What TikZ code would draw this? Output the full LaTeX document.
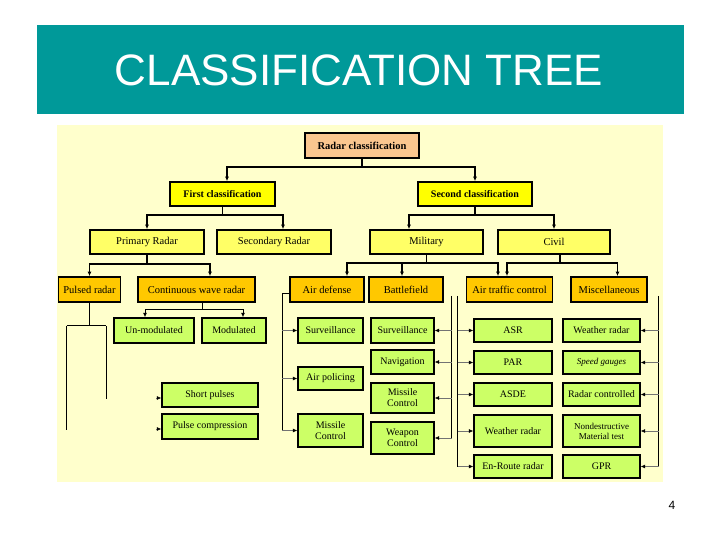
\documentclass[tikz,border=0pt]{standalone}
\usepackage{fontspec}
\setmainfont{Liberation Serif}
\newfontfamily\slidefont{Liberation Sans}
\usetikzlibrary{arrows.meta,positioning,calc}

\definecolor{slideteal}{HTML}{009999}
\definecolor{panelyellow}{HTML}{FFFFCC}
\definecolor{rootpeach}{HTML}{FAC68F}
\definecolor{classyellow}{HTML}{FFFF00}
\definecolor{branchyellow}{HTML}{FFFF66}
\definecolor{kindorange}{HTML}{FFC800}
\definecolor{leafgreen}{HTML}{CCFF66}

\begin{document}
\begin{tikzpicture}[x=1pt,y=-1pt,
  box/.style={draw,line width=1.6pt,inner sep=1pt,align=center,
              font=\fontsize{10.5}{11.5}\selectfont},
  dims/.style 2 args={minimum width=#1,minimum height=#2},
  root/.style={box,fill=rootpeach,font=\bfseries\fontsize{10.5}{12}\selectfont},
  cls/.style={box,fill=classyellow,font=\bfseries\fontsize{10}{12}\selectfont},
  branch/.style={box,fill=branchyellow},
  kind/.style={box,fill=kindorange,line width=1.8pt},
  leaf/.style={box,fill=leafgreen,line width=1.3pt,font=\fontsize{10}{11}\selectfont},
  bus/.style={line width=1.6pt},
  ev/.style={-{Latex[length=4.5pt,width=4pt]}},
  sub/.style={line width=0.9pt},
  twig/.style={-{Latex[length=4.5pt,width=4pt,black]},line width=0.6pt,black!55}]

  % slide
  \useasboundingbox (0,0) rectangle (720,540);
  \fill[white] (0,0) rectangle (720,540);
  \fill[slideteal] (37,25) rectangle (684,114);
  \node[text=white,font=\slidefont\fontsize{44}{44}\selectfont] (title)
    at (359,70) {CLASSIFICATION TREE};
  \fill[panelyellow] (57,125) rectangle (663,482);
  \node[font=\slidefont\fontsize{12}{12}\selectfont] (pageno) at (672,505) {4};

  % upper levels
  \node[root,dims={114}{25}] (rc) at (362,145.5) {Radar classification};
  \node[cls,dims={105}{24}] (fc) at (222.5,194) {First classification};
  \node[cls,dims={114}{24}] (sc) at (475,194) {Second classification};

  \node[branch,dims={114}{24}] (pr) at (147,242) {Primary Radar};
  \node[branch,dims={114}{24}] (sr) at (274,242) {Secondary Radar};
  \node[branch,dims={113}{24}] (mil) at (426.5,242) {Military};
  \node[branch,dims={112}{24}] (civ) at (554,242) {Civil};

  \node[kind,dims={62}{25}] (pul) at (89.5,289.5) {Pulsed radar};
  \node[kind,dims={117}{25}] (cw) at (196.5,289.5) {Continuous wave radar};
  \node[kind,dims={74}{25}] (ad) at (327,289.5) {Air defense};
  \node[kind,dims={74}{25}] (bf) at (406,289.5) {Battlefield};
  \node[kind,dims={86}{25}] (atc) at (509.5,289.5) {Air traffic control};
  \node[kind,dims={76}{25}] (misc) at (609,289.5) {Miscellaneous};

  % leaves
  \node[leaf,dims={80}{25}] (um) at (154,330.5) {Un-modulated};
  \node[leaf,dims={64}{25}] (mod) at (234,330.5) {Modulated};
  \node[leaf,dims={96}{24}] (sp) at (210,395) {Short pulses};
  \node[leaf,dims={96}{25}] (pc) at (210,426.5) {Pulse compression};

  \node[leaf,dims={65}{25}] (ads) at (330.5,330.5) {Surveillance};
  \node[leaf,dims={65}{23}] (ap) at (330.5,378.5) {Air policing};
  \node[leaf,dims={65}{33}] (amc) at (330.5,430.5) {Missile\\Control};

  \node[leaf,dims={63}{25}] (bs) at (402.5,330.5) {Surveillance};
  \node[leaf,dims={63}{24}] (bn) at (402.5,362) {Navigation};
  \node[leaf,dims={63}{30}] (bmc) at (402.5,398) {Missile\\Control};
  \node[leaf,dims={63}{32}] (bwc) at (402.5,438) {Weapon\\Control};

  \node[leaf,dims={78}{23}] (asr) at (513,330.5) {ASR};
  \node[leaf,dims={78}{23}] (par) at (513,362.5) {PAR};
  \node[leaf,dims={78}{23}] (asde) at (513,394.5) {ASDE};
  \node[leaf,dims={78}{32}] (awr) at (513,431) {Weather radar};
  \node[leaf,dims={78}{23}] (enr) at (513,466.5) {En-Route radar};

  \node[leaf,dims={77}{23}] (mwr) at (601.5,330.5) {Weather radar};
  \node[leaf,dims={77}{23},font=\itshape\fontsize{9}{10}\selectfont] (spg)
    at (601.5,362.5) {Speed gauges};
  \node[leaf,dims={77}{23}] (rcd) at (601.5,394.5) {Radar controlled};
  \node[leaf,dims={77}{32},font=\fontsize{9}{10}\selectfont] (ndt)
    at (601.5,431) {Nondestructive\\Material test};
  \node[leaf,dims={77}{23}] (gpr) at (601.5,466.5) {GPR};

  % top buses
  \draw[bus] (rc.south) -- ++(0,8) coordinate (rcbus);
  \draw[bus,ev] (rcbus) -| ($(fc.north)+(4.5,0)$);
  \draw[bus,ev] (rcbus) -| (sc.north);

  \draw[bus] (fc.south) -- ++(0,8) coordinate (fcbus);
  \draw[bus,ev] (fcbus) -| (pr.north);
  \draw[bus,ev] (fcbus) -| ($(sr.north)+(9,0)$);

  \draw[bus] (sc.south) -- ++(0,8) coordinate (scbus);
  \draw[bus,ev] (scbus) -| ($(mil.north)+(-17.5,0)$);
  \draw[bus,ev] (scbus) -| (civ.north);

  \draw[bus] (pr.south) -- ++(0,9) coordinate (prbus);
  \draw[bus,ev] (prbus) -| (pul.north);
  \draw[bus,ev] (prbus) -| ($(cw.north)+(13.5,0)$);

  \draw[bus] (mil.south) -- ++(0,8) coordinate (milbus);
  \draw[bus,ev] (milbus) -| ($(ad.north)+(20,0)$);
  \draw[bus,ev] (milbus) -| ($(bf.north)+(-4,0)$);
  \draw[bus,ev] (milbus) -| ($(atc.north)+(-11.5,0)$);

  \draw[bus] ($(civ.south)+(6,0)$) -- ++(0,8) coordinate (civbus);
  \draw[bus,ev] (civbus) -| ($(atc.north)+(-2.5,0)$);
  \draw[bus,ev] (civbus) -| ($(misc.north)+(8.5,0)$);

  % continuous wave
  \draw[sub] ($(cw.south)+(5.5,0)$) -- ++(0,7) coordinate (cwbus);
  \draw[sub,ev] (cwbus) -| ($(um.north)+(-9,0)$);
  \draw[sub,ev] (cwbus) -| ($(mod.north)+(9,0)$);

  % pulsed radar, legs left open
  \draw[sub] (pul.south) -- ++(0,23) coordinate (pulbus);
  \draw[sub] ($(pulbus)+(-23,0)$) -- ($(pulbus)+(16.5,0)$);
  \draw[sub] ($(pulbus)+(-23,0)$) -- ++(0,104);
  \draw[sub] ($(pulbus)+(16.5,0)$) -- ++(0,73);
  \draw[twig] ($(sp.west)+(-5,3)$) -- ($(sp.west)+(0,3)$);
  \draw[twig] ($(pc.west)+(-5,2.5)$) -- ($(pc.west)+(0,2.5)$);

  % air defense
  \coordinate (adbus) at ($(ad.west)+(-7,3.5)$);
  \draw[sub] ($(ad.west)+(0,3.5)$) -- (adbus) -- (adbus |- amc.west);
  \draw[twig] (adbus |- ads.west) -- (ads.west);
  \draw[twig] (adbus |- ap.west) -- (ap.west);
  \draw[twig] (adbus |- amc.west) -- (amc.west);

  % battlefield
  \coordinate (bfbus) at ($(bf.south east)+(8,-7)$);
  \draw[sub] (bfbus) -- (bfbus |- bwc.east);
  \draw[twig] (bfbus |- bs.east) -- (bs.east);
  \draw[twig] (bfbus |- bn.east) -- (bn.east);
  \draw[twig] (bfbus |- bmc.east) -- (bmc.east);
  \draw[twig] (bfbus |- bwc.east) -- (bwc.east);

  % air traffic control
  \coordinate (atcbus) at ($(atc.south west)+(-8,-7)$);
  \draw[sub] (atcbus) -- (atcbus |- enr.west);
  \draw[twig] (atcbus |- asr.west) -- (asr.west);
  \draw[twig] (atcbus |- par.west) -- (par.west);
  \draw[twig] (atcbus |- asde.west) -- (asde.west);
  \draw[twig] (atcbus |- awr.west) -- (awr.west);
  \draw[twig] (atcbus |- enr.west) -- (enr.west);

  % miscellaneous
  \coordinate (miscbus) at ($(misc.south east)+(11,-7)$);
  \draw[sub] (miscbus) -- (miscbus |- gpr.east);
  \draw[twig] (miscbus |- mwr.east) -- (mwr.east);
  \draw[twig] (miscbus |- spg.east) -- (spg.east);
  \draw[twig] (miscbus |- rcd.east) -- (rcd.east);
  \draw[twig] (miscbus |- ndt.east) -- (ndt.east);
  \draw[twig] (miscbus |- gpr.east) -- (gpr.east);
\end{tikzpicture}
\end{document}
